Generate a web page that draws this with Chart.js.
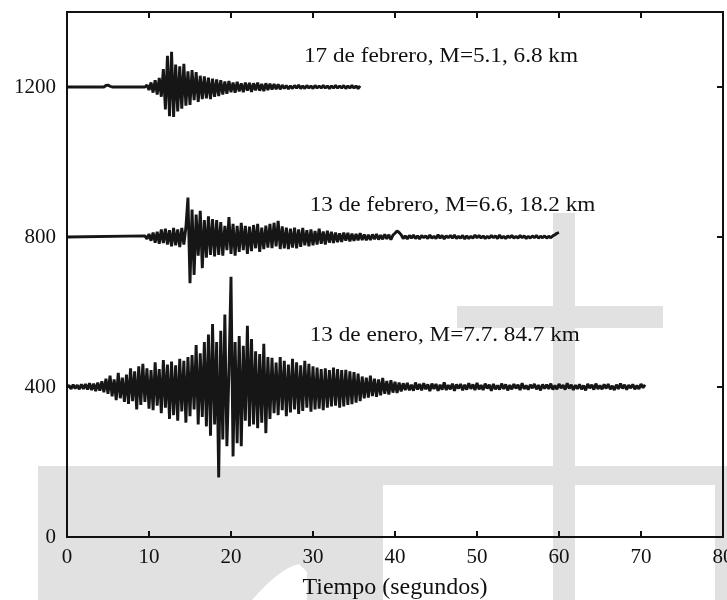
<!DOCTYPE html>
<html lang="es">
<head>
<meta charset="UTF-8" />
<title>Sismogramas</title>
<script src="https://cdn.jsdelivr.net/npm/chart.js"></script>
<style>
  body { margin: 0; padding: 0; background: #ffffff; }
  #wrap { width: 727px; height: 600px; }
</style>
</head>
<body>
<div id="wrap"><canvas id="chart" width="727" height="600"></canvas></div>
<script>
// sampling of the traces (seconds between samples)
const sampleStep = 0.25;

const traceNames = ["17 de febrero, M=5.1, 6.8 km", "13 de febrero, M=6.6, 18.2 km", "13 de enero, M=7.7. 84.7 km"];
const baselines = [1200, 800, 400];
const traceStarts = [4.5, 9.5, 0];

// amplitudes, relative to each baseline
const feb17 = [
  0, 4, 5, 2, 0,
  0, 0, 0, 0, 0, 0, 0, 0, 0, 0, 0, 0, 0, 0, 0, 0,
  5, -8, 12, -15, 18, -20, 24, -26,
  48, -60, 83, -78, 94, -80, 60, -65, 55, -58,
  62, -50, 42, -48, 45, -35, 40, -40,
  30, -32, 28, -30, 25, -32, 22, -26, 20, -24, 18, -20,
  15, -18, 16, -14, 12, -15, 14, -12, 10, -14, 12, -10, 11, -13, 10, -9, 12, -10, 8, -11, 10, -8, 9, -7, 8, -6, 7, -6,
  5, -4, 4, -5, 3, -4, 4, -3, 5, -4, 3, -4, 4, -3, 3, -4, 4, -3, 3, -3, 4, -3, 3, -4, 3, -3, 4, -3, 3, -3, 4, -4, 3, -3, 4, -3, 3, -4, 3
];

const feb13 = [
  3, -5, 8, -10, 12, -15, 14, -18, 20, -16, 22, -20, 18, -25, 24, -22, 20, -27, 24, -20, 26,
  105, -123, 73, -101, 60, -50, 70, -83, 45, -55, 55, -48, 48, -52, 45, -48, 40,
  -50, 30, -35, 53, -45, 35, -50, 30, -40, 38, -35, 30, -45, 28, -38, 32, -30, 35, -40, 25, -32, 30, -28, 35, -30, 38, -25, 43, -32, 28, -30, 25,
  -32, 22, -28, 25, -30, 20, -26, 24, -22, 18, -25, 20, -22, 16, -20, 22, -18, 15, -20, 17,
  -15, 14, -16, 12, -14, 10, -13, 12, -10, 11, -12, 9, -10, 8, -9, 10,
  -8, 7, -9, 6, -8, 7, -6, 8, -7, 5, -6, 7, -5, 6, -7, 5,
  10, 16, 12, 6, -4, 3,
  -5, 4, -3, 5, -4, 3, -5, 4, -2, 3,
  -4, 5, -3, 2, -4, 6, -3, 4, -5, 3,
  -2, 4, -3, 5, -4, 2, -3, 4, -5, 3,
  -4, 2, -3, 5, -2, 4, -3, 3, -4, 2,
  -3, 4, -2, 3, -4, 5, -3, 2, -4, 3,
  -2, 4, -3, 2, -3, 4, -2, 3, -4, 2,
  -3, 3, -2, 4, -3, 2, -2, 3, -3, 2,
  -2, 3, 6, 10, 12
];

const jan13 = [
  0, 4, -5, 6, -4, 5, -6, 7, -5,
  8, -7, 10, -8, 9, -11, 12, -10,
  15, -14, 22, -18, 30, -25, 20, -35, 38, -30, 25, -40, 33,
  -45, 50, -38, 42, -60, 55, -48, 62, -40, 50, -58, 45, -62, 66, -50, 48,
  -70, 72, -55, 60, -85, 68, -75, 58, -90, 75, -65, 70, -95, 80, -78, 85,
  -60, 112, -100, 90, -80, 120, -105, 140,
  -130, 168, -100, 120, -241, 150, -140, 193, -158, 40,
  294, -185, 120, -150, 136, -158, 110, -90, 163, -105,
  128, -100, 95, -110, 88, -95, 115, -123, 80, -85,
  78, -70, 65, -75, 80, -62, 70, -78, 60, -68,
  75, -60, 66, -72, 58, -64, 70, -55, 62, -66,
  55, -60, 52, -58, 48, -62, 50, -55, 45, -52,
  52, -50, 48, -55, 45, -52, 46, -48, 42, -46,
  40, -42, 36, -38,
  28, -30, 25, -28, 30, -24, 22, -26, 20, -22, 24, -18, 16, -20, 18, -15, 14, -16, 12,
  -12, 10, -8, 11, -9, 6, -10, 12, -7, 8,
  -9, 10, -6, 7, -11, 9, -5, 8, -10, 6,
  -7, 12, -8, 5, -6, 9, -10, 7, -4, 8,
  -9, 6, -7, 10, -5, 7, -8, 11, -6, 5,
  -8, 9, -4, 6, -10, 8, -6, 4, -7, 9,
  -5, 7, -9, 5, -6, 8, -4, 6, -8, 10,
  -5, 4, -7, 6, -3, 8, -6, 5, -9, 7,
  -4, 6, -5, 9, -7, 4, -6, 8, -3, 5,
  -7, 10, -4, 6, -8, 5, -5, 7, -6, 4,
  -9, 8, -3, 6, -7, 9, -5, 4, -6, 7,
  -4, 8, -6, 3, -8, 6, -5, 9, -4, 6,
  -7, 5, -3, 7, -6, 4, -5, 8, -2, 6
];

const xTicks = [0, 10, 20, 30, 40, 50, 60, 70, 80];
const yTicks = [0, 400, 800, 1200];

const traces = [feb17, feb13, jan13];

function tracePoints(values, k) {
  const pts = [];
  if (traceStarts[k] > 0) pts.push({ x: 0, y: baselines[k] });
  values.forEach((v, i) => pts.push({ x: traceStarts[k] + i * sampleStep, y: baselines[k] + v }));
  return pts;
}

const serif = "'Liberation Serif', 'DejaVu Serif', serif";

// pale watermark behind the figure, frame, inward ticks and trace captions
const figureDecor = {
  id: "figureDecor",
  beforeDraw(chart) {
    const ctx = chart.ctx;
    ctx.save();
    ctx.fillStyle = "#ffffff";
    ctx.fillRect(0, 0, chart.width, chart.height);
    ctx.fillStyle = "#e1e1e1";
    ctx.fillRect(38, 466, 345, 134);
    ctx.fillRect(383, 466, 332, 19);
    ctx.fillRect(553, 213, 22, 387);
    ctx.fillRect(457, 306, 206, 22);
    ctx.fillRect(715, 466, 12, 134);
    ctx.fillStyle = "#ffffff";
    ctx.beginPath();
    ctx.moveTo(252, 600);
    ctx.quadraticCurveTo(280, 568, 299, 564);
    ctx.lineTo(307, 572);
    ctx.lineTo(307, 600);
    ctx.closePath();
    ctx.fill();
    ctx.restore();
  },
  afterDatasetsDraw(chart) {
    const ctx = chart.ctx;
    const xs = chart.scales.x, ys = chart.scales.y;
    const anchors = [[28.9, 1280], [29.6, 884], [29.6, 536]];
    ctx.save();
    ctx.fillStyle = "#111111";
    ctx.font = "20px " + serif;
    ctx.textBaseline = "middle";
    traceNames.forEach((name, k) => {
      ctx.save();
      ctx.translate(xs.getPixelForValue(anchors[k][0]), ys.getPixelForValue(anchors[k][1]));
      ctx.scale(1.16, 1);
      ctx.fillText(name, 0, 0);
      ctx.restore();
    });
    ctx.restore();
  },
  afterDraw(chart) {
    const ctx = chart.ctx;
    const { left, right, top, bottom } = chart.chartArea;
    const xs = chart.scales.x, ys = chart.scales.y;
    ctx.save();
    ctx.strokeStyle = "#111111";
    ctx.lineWidth = 2;
    ctx.strokeRect(left, top, right - left, bottom - top);
    ctx.beginPath();
    xTicks.slice(1, -1).forEach(v => {
      const p = Math.round(xs.getPixelForValue(v));
      ctx.moveTo(p, bottom); ctx.lineTo(p, bottom - 6);
      ctx.moveTo(p, top); ctx.lineTo(p, top + 6);
    });
    yTicks.slice(1).forEach(v => {
      const p = Math.round(ys.getPixelForValue(v));
      ctx.moveTo(left, p); ctx.lineTo(left + 6, p);
      ctx.moveTo(right, p); ctx.lineTo(right - 6, p);
    });
    ctx.stroke();
    ctx.restore();
  }
};

new Chart(document.getElementById("chart"), {
  type: "line",
  data: {
    datasets: traces.map((vals, k) => ({
      label: traceNames[k],
      data: tracePoints(vals, k),
      borderColor: "#161616",
      borderWidth: 2.9,
      borderJoinStyle: "bevel",
      pointRadius: 0,
      tension: 0,
      fill: false
    }))
  },
  options: {
    responsive: false,
    devicePixelRatio: 1,
    animation: false,
    layout: { padding: { top: 12, right: 4, left: 0, bottom: 0 } },
    plugins: { legend: { display: false }, tooltip: { enabled: false } },
    scales: {
      x: {
        type: "linear",
        min: 0,
        max: 80,
        afterBuildTicks: s => { s.ticks = xTicks.map(v => ({ value: v })); },
        afterFit: s => { s.height = 63; s.paddingLeft = 0; s.paddingRight = 0; },
        grid: { display: false, drawTicks: false },
        border: { display: false },
        ticks: { padding: 8, color: "#111111", font: { family: serif, size: 21 }, maxRotation: 0 },
        title: { display: true, text: "Tiempo (segundos)", color: "#111111", padding: { top: 0, bottom: -2 }, font: { family: serif, size: 24 } }
      },
      y: {
        type: "linear",
        min: 0,
        max: 1400,
        afterBuildTicks: s => { s.ticks = yTicks.map(v => ({ value: v })); },
        afterFit: s => { s.width = 67; s.paddingTop = 0; s.paddingBottom = 0; },
        grid: { display: false, drawTicks: false },
        border: { display: false },
        ticks: { padding: 11, color: "#111111", font: { family: serif, size: 21 }, callback: v => String(v) }
      }
    }
  },
  plugins: [figureDecor]
});
</script>
</body>
</html>
